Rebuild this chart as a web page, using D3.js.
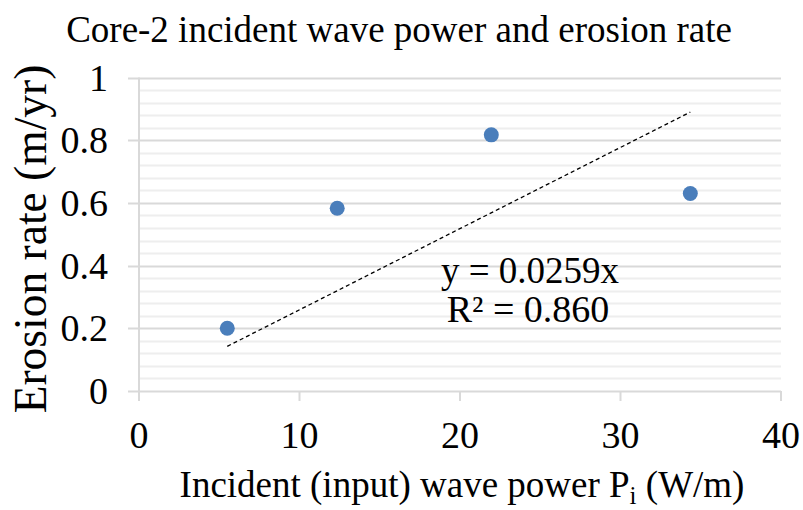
<!DOCTYPE html>
<meta charset='utf-8'>
<head>
<script src='https://d3js.org/d3.v7.min.js'></script>
<style>
  body{ margin: 0; background: #fff; }
  svg text{ font-family: 'Liberation Serif', 'Times New Roman', serif; fill: #000; }
</style>
</head>
<body>
<svg id="chart" width="803" height="510"></svg>
<script>

  // Data
  var power   = [5.5, 12.35, 21.95, 34.35];   // W/m
  var erosion = [0.200, 0.583, 0.817, 0.630]; // m/yr
  var slope = 0.0259;
  var xTicks = [0, 10, 20, 30, 40];
  var yTicks = [0, 0.2, 0.4, 0.6, 0.8, 1];

  var margin = {top: 77.5, left: 139, right: 22, bottom: 119},
      width = 803, height = 510;

  var svg = d3.select('#chart');

  var x = d3.scaleLinear().domain([0, 40]).range([margin.left, width - margin.right]);
  var y = d3.scaleLinear().domain([0, 1]).range([height - margin.bottom, margin.top]);

  // minor gridlines
  var minor = d3.range(0, 1.0001, 0.04).filter(function(d){ return Math.abs(d / 0.2 - Math.round(d / 0.2)) > 0.01; });
  svg.append('g').selectAll('line').data(minor).enter().append('line')
    .attr('x1', x(0)).attr('x2', x(40))
    .attr('y1', function(d){ return Math.round(y(d)) + 0.5; })
    .attr('y2', function(d){ return Math.round(y(d)) + 0.5; })
    .attr('stroke', '#eeeeee').attr('stroke-width', 2);

  // major gridlines
  svg.append('g').selectAll('line').data(yTicks).enter().append('line')
    .attr('x1', x(0) - 11).attr('x2', x(40))
    .attr('y1', function(d){ return Math.round(y(d)) + 0.5; })
    .attr('y2', function(d){ return Math.round(y(d)) + 0.5; })
    .attr('stroke', '#d9d9d9').attr('stroke-width', 2);

  // y axis line
  svg.append('line')
    .attr('x1', x(0)).attr('x2', x(0))
    .attr('y1', y(1)).attr('y2', y(0))
    .attr('stroke', '#d9d9d9').attr('stroke-width', 2);

  // x ticks
  svg.append('g').selectAll('line').data(xTicks).enter().append('line')
    .attr('x1', function(d){ return x(d); }).attr('x2', function(d){ return x(d); })
    .attr('y1', y(0)).attr('y2', y(0) + 10)
    .attr('stroke', '#d9d9d9').attr('stroke-width', 2);

  // tick labels
  svg.append('g').selectAll('text').data(yTicks).enter().append('text')
    .attr('x', x(0) - 31).attr('y', function(d){ return y(d) + 13; })
    .attr('text-anchor', 'end')
    .style('font-size', '38px')
    .text(function(d){ return d3.format('~g')(d); });

  svg.append('g').selectAll('text').data(xTicks).enter().append('text')
    .attr('x', function(d){ return x(d); }).attr('y', 448)
    .attr('text-anchor', 'middle')
    .style('font-size', '38px')
    .text(function(d){ return d; });

  // trendline
  var xr = d3.extent(power);
  svg.append('line')
    .attr('x1', x(xr[0])).attr('y1', y(slope * xr[0]))
    .attr('x2', x(xr[1])).attr('y2', y(slope * xr[1]))
    .attr('stroke', '#000').attr('stroke-width', 1.3)
    .attr('stroke-dasharray', '4,3');

  // points
  svg.append('g').selectAll('circle').data(power).enter().append('circle')
    .attr('cx', function(d){ return x(d); })
    .attr('cy', function(d, i){ return y(erosion[i]); })
    .attr('r', 7.5)
    .attr('fill', '#4a7ebb');

  // equation
  svg.append('text').attr('x', 530).attr('y', 283).attr('text-anchor', 'middle')
    .style('font-size', '37px').text('y = 0.0259x');
  svg.append('text').attr('x', 528).attr('y', 322).attr('text-anchor', 'middle')
    .style('font-size', '38px').text('R² = 0.860');

  // title
  svg.append('text').attr('x', 399).attr('y', 42).attr('text-anchor', 'middle')
    .style('font-size', '37px').text('Core-2 incident wave power and erosion rate');

  // axis titles
  svg.append('text')
    .attr('transform', 'translate(46,239) rotate(-90)')
    .attr('text-anchor', 'middle')
    .style('font-size', '45.5px').text('Erosion rate (m/yr)');

  var xl = svg.append('text').attr('x', 462).attr('y', 497).attr('text-anchor', 'middle')
    .style('font-size', '37px');
  xl.append('tspan').text('Incident (input) wave power P');
  xl.append('tspan').attr('dy', 7).style('font-size', '25px').text('i');
  xl.append('tspan').attr('dy', -7).text(' (W/m)');

</script>
</body>
</html>
